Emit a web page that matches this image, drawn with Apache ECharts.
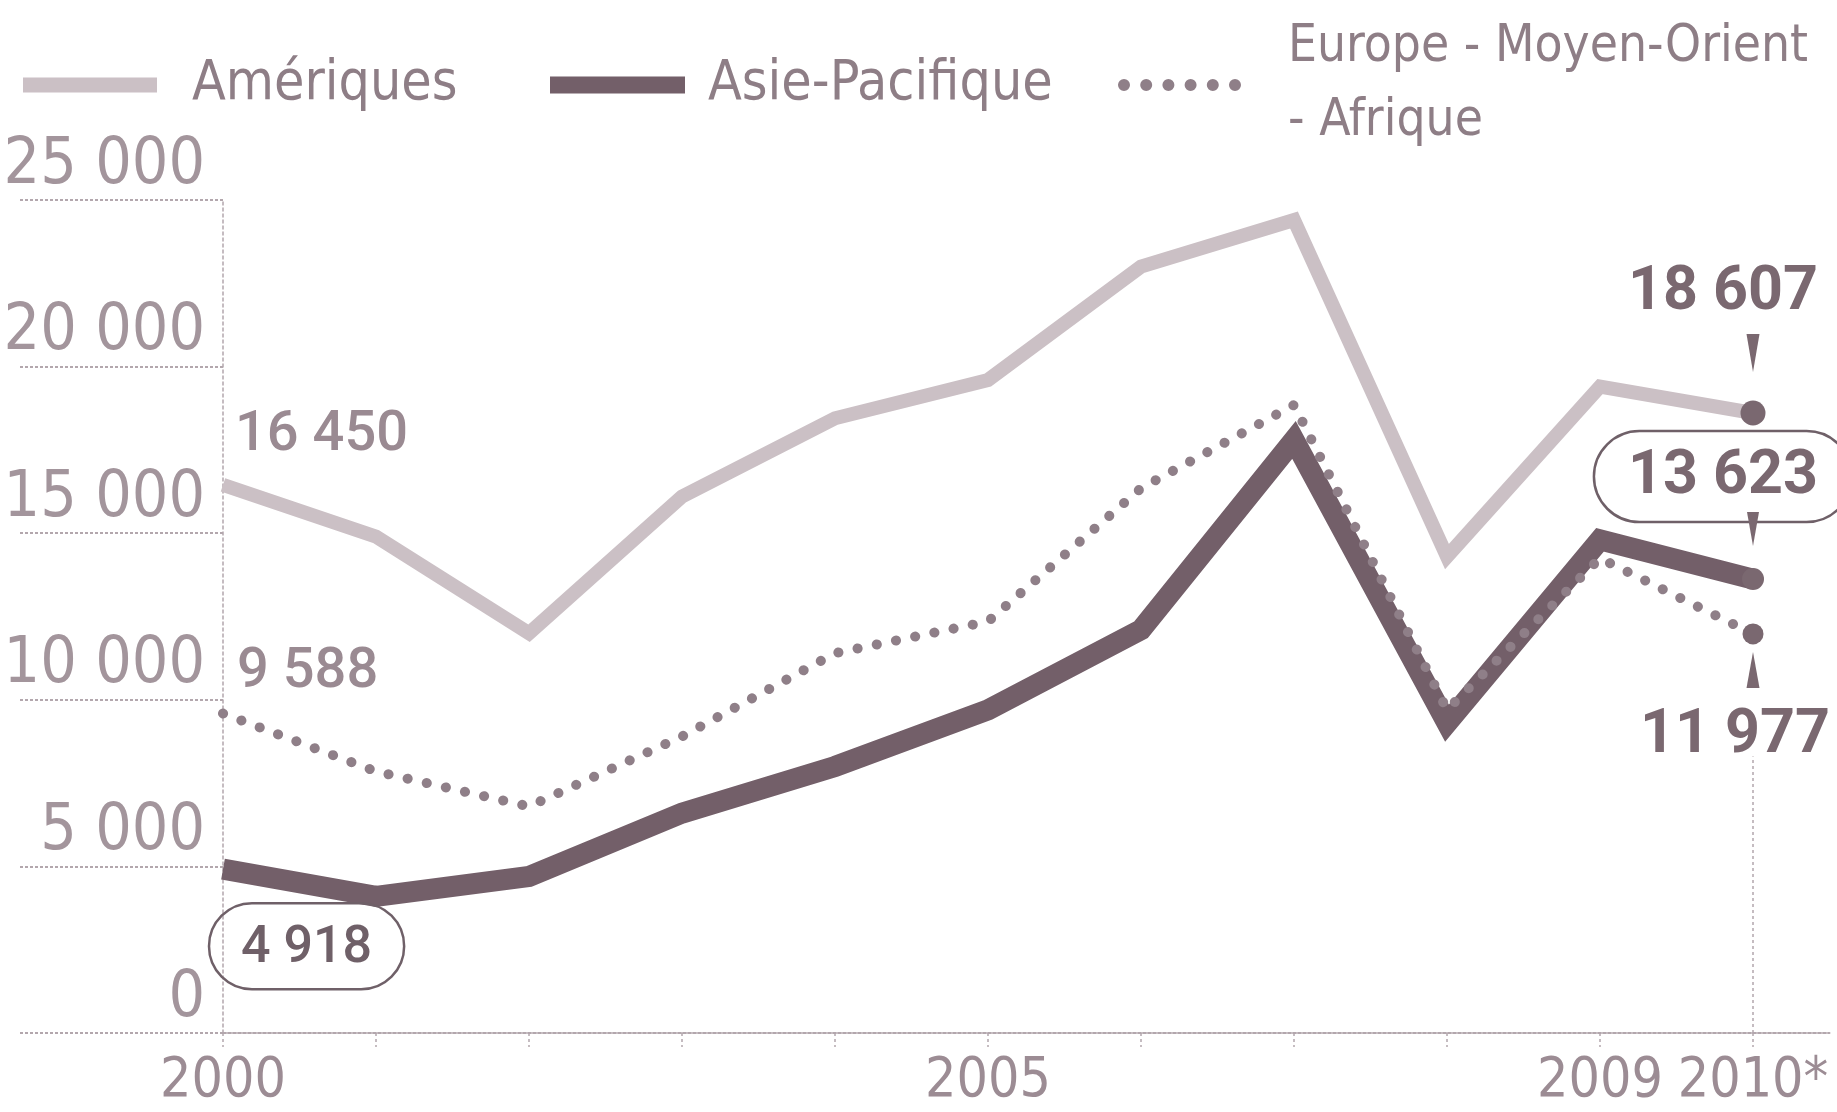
<!DOCTYPE html>
<html>
<head>
<meta charset="utf-8">
<style>
html,body{margin:0;padding:0;background:#fff;}
#chart{width:1837px;height:1112px;}
</style>
<script src="https://cdn.jsdelivr.net/npm/echarts@6/dist/echarts.min.js"></script>
</head>
<body>
<div id="chart"></div>
<script>
// ---- data ----
const years = [2000, 2001, 2002, 2003, 2004, 2005, 2006, 2007, 2008, 2009, 2010];
const ameriques = [16450, 14900, 12000, 16100, 18450, 19600, 23000, 24400, 14300, 19400, 18607];
const asiePacifique = [4918, 4100, 4700, 6600, 8000, 9700, 12100, 17800, 9300, 14800, 13623];
const europeMOA = [9588, 7850, 6800, 8900, 11400, 12350, 16350, 18850, 9700, 14250, 11977];
const seriesNames = ['Amériques', 'Asie-Pacifique', 'Europe - Moyen-Orient\n- Afrique'];
const xLabelYears = [2000, 2005, 2009, 2010];

// ---- styles ----
const cond = "'DejaVu Sans Condensed', 'DejaVu Sans', sans-serif";
const num = "Roboto, 'Noto Sans', sans-serif";
const cAm = '#cbc0c5', cAs = '#735f69', cEu = '#8f7f88', cDot = '#7a6870';
const cText = '#8e7e86', cAxis = '#b3a7ad';

function fmtNum(v) {
  const s = String(v);
  return s.length > 3 ? s.slice(0, s.length - 3) + ' ' + s.slice(-3) : s;
}
const last = years.length - 1;

function buildData(arr, firstLabel, lastLabel, lastSize) {
  return years.map((y, i) => {
    const item = { value: [y, arr[i]] };
    if (i === 0 && firstLabel) item.label = Object.assign({ show: true, formatter: fmtNum(arr[i]) }, firstLabel);
    if (i === last) {
      item.symbolSize = lastSize;
      if (lastLabel) item.label = Object.assign({ show: true, formatter: fmtNum(arr[i]) }, lastLabel);
    }
    return item;
  });
}

const dotsIcon = 'path://' + [6, 28.2, 50.4, 72.6, 94.8, 117].map(cx =>
  `M${cx - 6},6a6,6 0 1,0 12,0a6,6 0 1,0 -12,0Z`).join('') + 'M0,0M123,12';

const chart = echarts.init(document.getElementById('chart'), null, { renderer: 'canvas' });
const legendText = { fontFamily: cond, fontSize: 55, color: cText, lineHeight: 74 };

chart.setOption({
  animation: false,
  backgroundColor: '#ffffff',
  grid: { left: 223, right: 7.5, top: 200, bottom: 79, containLabel: false },
  legend: [
    { data: [{ name: seriesNames[0], icon: 'rect', itemStyle: { color: cAm } }],
      left: 18, top: 43, itemWidth: 134, itemHeight: 15, selectedMode: false,
      textStyle: Object.assign({ padding: [0, 0, 0, 30] }, legendText) },
    { data: [{ name: seriesNames[1], icon: 'rect', itemStyle: { color: cAs } }],
      left: 545, top: 43, itemWidth: 135, itemHeight: 17, selectedMode: false,
      textStyle: Object.assign({ padding: [0, 0, 0, 18] }, legendText) },
    { data: [{ name: seriesNames[2], icon: dotsIcon, itemStyle: { color: cEu } }],
      left: 1113, top: 6, itemWidth: 123, itemHeight: 12, selectedMode: false,
      textStyle: Object.assign({}, legendText, { fontSize: 51, padding: [0, 0, 0, 42] }) }
  ],
  xAxis: {
    type: 'value', min: 2000, max: 2010.5, interval: 1,
    splitLine: { show: false },
    axisLine: { show: true, lineStyle: { color: cAxis, width: 2, type: [3, 2] } },
    axisTick: { show: true, customValues: years, length: 14, lineStyle: { color: cAxis, width: 1.5, type: [3, 3] } },
    axisLabel: {
      customValues: xLabelYears, margin: 21, hideOverlap: false,
      formatter: v => (v === 2010 ? '2010*' : String(v)),
      fontFamily: cond, fontSize: 55, color: '#9c8c94'
    }
  },
  yAxis: {
    type: 'value', min: 0, max: 25000, interval: 5000,
    splitLine: { show: false },
    axisLine: { show: true, lineStyle: { color: cAxis, width: 1.5, type: [3, 3] } },
    axisTick: { show: true, length: 205, lineStyle: { color: cAxis, width: 2, type: [3, 2] } },
    axisLabel: {
      margin: 18, align: 'right', verticalAlign: 'bottom', padding: [0, 0, 2, 0],
      formatter: v => fmtNum(v),
      fontFamily: cond, fontSize: 64, color: '#a3959c'
    }
  },
  series: [
    {
      name: seriesNames[0], type: 'line', z: 2,
      symbol: 'circle', symbolSize: 0, showSymbol: true,
      itemStyle: { color: cDot },
      lineStyle: { color: cAm, width: 14, join: 'miter' },
      data: buildData(ameriques,
        { position: 'top', align: 'left', verticalAlign: 'bottom', offset: [12, -16],
          fontFamily: num, fontWeight: 500, fontSize: 56, color: '#9a8a92' },
        { position: 'top', align: 'center', distance: 76, offset: [-30, 0],
          fontFamily: num, fontWeight: 700, fontSize: 61, color: '#7a6870' }, 25),
      markPoint: {
        symbol: 'triangle', symbolRotate: 180, symbolSize: [13, 38], symbolOffset: [0, -60],
        itemStyle: { color: cDot }, label: { show: false }, silent: true,
        data: [{ coord: [years[last], ameriques[last]] }]
      }
    },
    {
      name: seriesNames[1], type: 'line', z: 3,
      symbol: 'circle', symbolSize: 0, showSymbol: true,
      itemStyle: { color: cDot },
      lineStyle: { color: cAs, width: 21, join: 'miter' },
      data: buildData(asiePacifique,
        { position: 'bottom', align: 'left', verticalAlign: 'top', distance: 34, offset: [-14, 0],
          fontFamily: num, fontWeight: 500, fontSize: 52, color: '#6f6068',
          padding: [20, 32, 14, 32], borderColor: '#6f6068', borderWidth: 2.5, borderRadius: 50 },
        { position: 'top', align: 'center', distance: 46, offset: [-30, 0],
          fontFamily: num, fontWeight: 700, fontSize: 61, color: '#7a6870',
          padding: [16, 34, 14, 34], borderColor: '#6f6068', borderWidth: 2.5, borderRadius: 50 }, 22),
      markPoint: {
        symbol: 'triangle', symbolRotate: 180, symbolSize: [12, 34], symbolOffset: [0, -50],
        itemStyle: { color: cDot }, label: { show: false }, silent: true,
        data: [{ coord: [years[last], asiePacifique[last]] }]
      }
    },
    {
      name: seriesNames[2], type: 'line', z: 4,
      symbol: 'circle', symbolSize: 0, showSymbol: true,
      itemStyle: { color: cDot },
      lineStyle: { color: cEu, width: 10, type: [0.1, 19.5], cap: 'round' },
      data: buildData(europeMOA,
        { position: 'top', align: 'left', verticalAlign: 'bottom', offset: [14, -8],
          fontFamily: num, fontWeight: 500, fontSize: 56, color: '#9a8a92' },
        { position: 'bottom', align: 'center', distance: 62, offset: [-18, 0],
          fontFamily: num, fontWeight: 700, fontSize: 61, color: '#7a6870' }, 21),
      markPoint: {
        symbol: 'triangle', symbolSize: [13, 36], symbolOffset: [0, 36],
        itemStyle: { color: cDot }, label: { show: false }, silent: true,
        data: [{ coord: [years[last], europeMOA[last]] }]
      },
      markLine: {
        silent: true, symbol: 'none', label: { show: false },
        lineStyle: { color: cAxis, width: 1.5, type: [3, 3] },
        data: [[{ coord: [years[last], 0] }, { coord: [years[last], 8300] }]]
      }
    }
  ]
});
</script>
</body>
</html>
